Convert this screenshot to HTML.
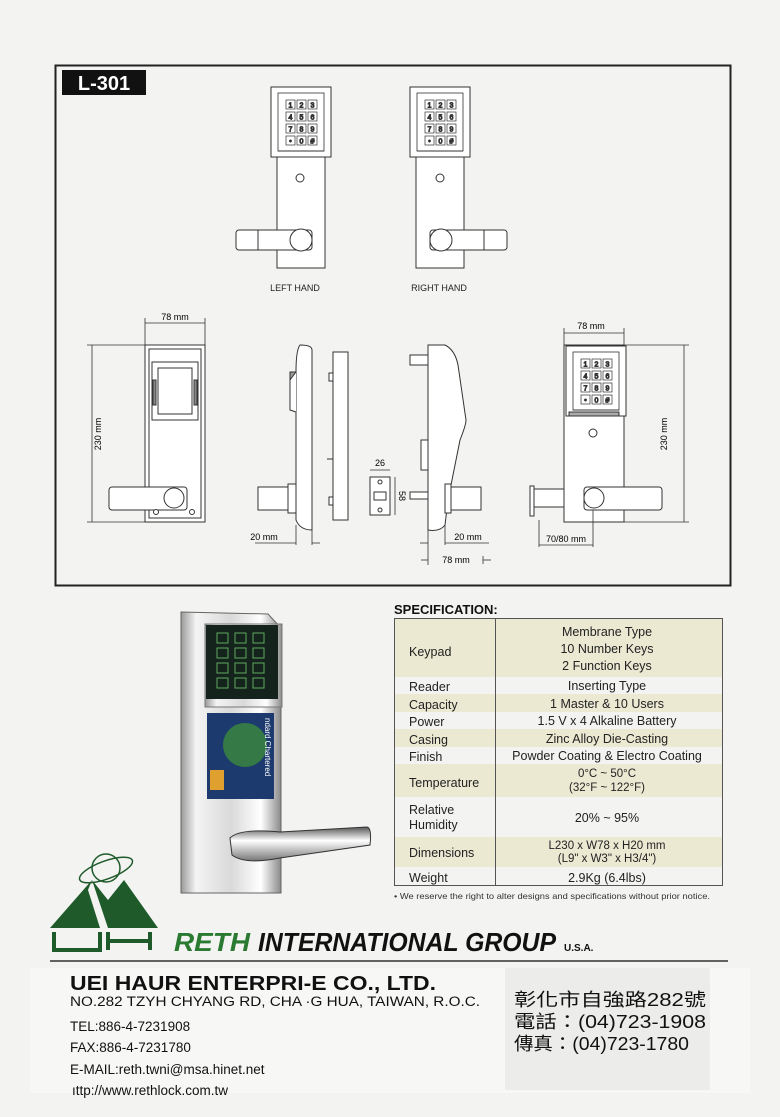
<!DOCTYPE html>
<html><head><meta charset="utf-8"><style>
html,body{margin:0;padding:0;background:#f3f3f1;}
body{width:780px;height:1117px;position:relative;overflow:hidden;font-family:"Liberation Sans",sans-serif;}
svg{position:absolute;left:0;top:0;}
</style></head><body>
<svg width="780" height="1117" viewBox="0 0 780 1117" xmlns="http://www.w3.org/2000/svg" font-family="Liberation Sans, sans-serif">
<defs>
<linearGradient id="chrome" x1="0" x2="1" y1="0" y2="0">
<stop offset="0" stop-color="#9a9a9a"/><stop offset="0.15" stop-color="#f4f4f4"/><stop offset="0.5" stop-color="#d9d9d9"/><stop offset="0.8" stop-color="#ffffff"/><stop offset="1" stop-color="#8a8a8a"/></linearGradient>
<linearGradient id="lev" x1="0" x2="0" y1="0" y2="1"><stop offset="0" stop-color="#555"/><stop offset="0.4" stop-color="#fff"/><stop offset="1" stop-color="#777"/></linearGradient>
<g id="kp">
<rect x="0" y="0" width="60" height="70" fill="#fff" stroke="#333" stroke-width="1"/>
<rect x="7" y="6" width="46" height="58" fill="#fff" stroke="#333" stroke-width="0.8"/>
<g fill="#fff" stroke="#333" stroke-width="0.7">
<rect x="15" y="13" width="9" height="9"/><rect x="26" y="13" width="9" height="9"/><rect x="37" y="13" width="9" height="9"/>
<rect x="15" y="25" width="9" height="9"/><rect x="26" y="25" width="9" height="9"/><rect x="37" y="25" width="9" height="9"/>
<rect x="15" y="37" width="9" height="9"/><rect x="26" y="37" width="9" height="9"/><rect x="37" y="37" width="9" height="9"/>
<rect x="15" y="49" width="9" height="9"/><rect x="26" y="49" width="9" height="9"/><rect x="37" y="49" width="9" height="9"/></g>
<g font-size="7" text-anchor="middle" fill="#333"><text x="19.5" y="20.5">1</text><text x="30.5" y="20.5">2</text><text x="41.5" y="20.5">3</text><text x="19.5" y="32.5">4</text><text x="30.5" y="32.5">5</text><text x="41.5" y="32.5">6</text><text x="19.5" y="44.5">7</text><text x="30.5" y="44.5">8</text><text x="41.5" y="44.5">9</text><text x="19.5" y="56.5">•</text><text x="30.5" y="56.5">0</text><text x="41.5" y="56.5">#</text></g>
<line x1="7" y1="64" x2="53" y2="64" stroke="#333"/>
</g>
</defs>

<rect x="55.5" y="65.5" width="675" height="520" fill="none" stroke="#222" stroke-width="2"/>
<rect x="62" y="70" width="84" height="25" fill="#111"/>
<text x="104" y="90" font-size="20" font-weight="bold" fill="#fff" text-anchor="middle">L-301</text>

<g stroke="#333" fill="#fff" stroke-width="1">
<rect x="277" y="157" width="48" height="111"/>
<use href="#kp" x="271" y="87"/>
<circle cx="300" cy="178" r="4"/>
<rect x="236" y="230" width="76" height="20" rx="3"/>
<circle cx="301" cy="240" r="11"/>
<line x1="258" y1="230" x2="258" y2="250"/>
</g>
<text x="295" y="291" font-size="9" text-anchor="middle" fill="#222">LEFT HAND</text>
<g stroke="#333" fill="#fff" stroke-width="1">
<rect x="416" y="157" width="48" height="111"/>
<use href="#kp" x="410" y="87"/>
<circle cx="440" cy="178" r="4"/>
<rect x="430" y="230" width="77" height="20" rx="3"/>
<circle cx="441" cy="240" r="11"/>
<line x1="484" y1="230" x2="484" y2="250"/>
</g>
<text x="439" y="291" font-size="9" text-anchor="middle" fill="#222">RIGHT HAND</text>

<g stroke="#333" fill="#fff" stroke-width="1">
<rect x="145" y="345" width="60" height="177"/>
<rect x="149" y="349" width="52" height="169" fill="none"/>
<rect x="152" y="362" width="46" height="58"/>
<rect x="158" y="368" width="34" height="46"/>
<rect x="153" y="380" width="3" height="25" fill="#888"/><rect x="194" y="380" width="3" height="25" fill="#888"/>
<rect x="109" y="487" width="78" height="23" rx="3"/>
<circle cx="174" cy="498" r="10"/>
<circle cx="156" cy="512" r="2.5"/><circle cx="192" cy="512" r="2.5"/>
</g>
<g stroke="#333" stroke-width="0.8" fill="none">
<line x1="145" y1="323" x2="205" y2="323"/><line x1="145" y1="318" x2="145" y2="345"/><line x1="205" y1="318" x2="205" y2="345"/>
<line x1="92" y1="345" x2="92" y2="522"/><line x1="87" y1="345" x2="145" y2="345"/><line x1="87" y1="522" x2="145" y2="522"/>
</g>
<text x="175" y="320" font-size="9" text-anchor="middle">78 mm</text>
<text x="0" y="0" font-size="9" text-anchor="middle" transform="translate(101,434) rotate(-90)">230 mm</text>

<g stroke="#333" fill="#fff" stroke-width="1">
<path d="M300 345 Q312 345 312 350 L312 530 Q300 530 296 520 L296 372 Q296 350 300 345Z"/>
<rect x="290" y="372" width="6" height="30" fill="#999"/>
<path d="M296 372 L290 380 L290 410 L296 412"/>
<rect x="258" y="487" width="30" height="23"/><rect x="288" y="484" width="8" height="29"/>
<rect x="333" y="352" width="15" height="168"/>
<rect x="329" y="373" width="4" height="8"/><rect x="329" y="497" width="4" height="8"/>
<line x1="327" y1="459" x2="333" y2="459"/>
</g>
<g stroke="#333" stroke-width="0.8"><line x1="296" y1="525" x2="296" y2="545"/><line x1="312" y1="525" x2="312" y2="545"/><line x1="255" y1="543" x2="296" y2="543"/><line x1="312" y1="543" x2="320" y2="543"/></g>
<text x="264" y="540" font-size="9" text-anchor="middle">20 mm</text>

<g stroke="#333" fill="#fff" stroke-width="1">
<rect x="370" y="477" width="20" height="38"/>
<circle cx="380" cy="482" r="2"/><circle cx="380" cy="510" r="2"/>
<path d="M374 492 L386 492 L386 500 L374 500Z"/>
</g>
<g stroke="#333" stroke-width="0.8"><line x1="370" y1="470" x2="390" y2="470"/><line x1="395" y1="477" x2="395" y2="515"/></g>
<text x="380" y="466" font-size="9" text-anchor="middle">26</text>
<text x="0" y="0" font-size="9" text-anchor="middle" transform="translate(399,496) rotate(90)">58</text>

<g stroke="#333" fill="#fff" stroke-width="1">
<path d="M428 345 L445 345 Q455 350 458 365 L466 420 Q466 425 460 440 L448 500 L445 525 Q440 532 428 530 Z"/>
<rect x="410" y="355" width="18" height="10"/>
<rect x="421" y="440" width="7" height="30"/>
<rect x="410" y="492" width="18" height="7"/>
<rect x="445" y="484" width="6" height="29"/><rect x="451" y="487" width="30" height="23"/>
</g>
<g stroke="#333" stroke-width="0.8"><line x1="428" y1="525" x2="428" y2="565"/><line x1="445" y1="525" x2="445" y2="545"/><line x1="445" y1="543" x2="489" y2="543"/><line x1="420" y1="543" x2="428" y2="543"/><line x1="421" y1="560" x2="428" y2="560"/><line x1="483" y1="560" x2="491" y2="560"/><line x1="483" y1="556" x2="483" y2="564"/></g>
<text x="468" y="540" font-size="9" text-anchor="middle">20 mm</text>
<text x="456" y="563" font-size="9" text-anchor="middle">78 mm</text>

<g stroke="#333" fill="#fff" stroke-width="1">
<rect x="564" y="345" width="60" height="177"/>
<use href="#kp" x="566" y="346"/>
<rect x="569" y="412" width="50" height="4" fill="#aaa"/>
<circle cx="593" cy="433" r="4"/>
<rect x="530" y="486" width="4" height="30"/><rect x="534" y="489" width="30" height="18"/>
<rect x="584" y="487" width="78" height="23" rx="3"/>
<circle cx="594" cy="498" r="10"/>
</g>
<g stroke="#333" stroke-width="0.8" fill="none">
<line x1="564" y1="333" x2="624" y2="333"/><line x1="564" y1="328" x2="564" y2="345"/><line x1="624" y1="328" x2="624" y2="345"/>
<line x1="684" y1="345" x2="684" y2="522"/><line x1="624" y1="345" x2="689" y2="345"/><line x1="624" y1="522" x2="689" y2="522"/>
<line x1="539" y1="520" x2="539" y2="547"/><line x1="593" y1="510" x2="593" y2="547"/><line x1="539" y1="545" x2="593" y2="545"/>
</g>
<text x="591" y="329" font-size="9" text-anchor="middle">78 mm</text>
<text x="0" y="0" font-size="9" text-anchor="middle" transform="translate(667,434) rotate(-90)">230 mm</text>
<text x="566" y="542" font-size="9" text-anchor="middle">70/80 mm</text>

<path d="M181 612 L268 614 L281 628 L281 893 L181 893 Z" fill="url(#chrome)" stroke="#666"/>
<rect x="205" y="624" width="77" height="83" fill="url(#chrome)" stroke="#777"/>
<rect x="206" y="625" width="72" height="74" fill="#14241c"/>
<g fill="none" stroke="#5fa85f" stroke-width="1">
<rect x="217" y="633" width="11" height="10"/><rect x="235" y="633" width="11" height="10"/><rect x="253" y="633" width="11" height="10"/>
<rect x="217" y="648" width="11" height="10"/><rect x="235" y="648" width="11" height="10"/><rect x="253" y="648" width="11" height="10"/>
<rect x="217" y="663" width="11" height="10"/><rect x="235" y="663" width="11" height="10"/><rect x="253" y="663" width="11" height="10"/>
<rect x="217" y="678" width="11" height="10"/><rect x="235" y="678" width="11" height="10"/><rect x="253" y="678" width="11" height="10"/></g>
<rect x="207" y="713" width="67" height="86" fill="#1c3a6e"/>
<circle cx="245" cy="745" r="22" fill="#3c8a3c" opacity="0.8"/>
<rect x="210" y="770" width="14" height="20" fill="#e0a030"/>
<text x="0" y="0" font-size="8" fill="#fff" transform="translate(265,718) rotate(90)">ndard Chartered</text>
<path d="M230 838 Q240 828 280 832 L367 827 Q372 828 370 845 L280 858 Q245 865 232 855Z" fill="url(#lev)" stroke="#333"/>

<text x="394" y="614" font-size="13" font-weight="bold" fill="#111">SPECIFICATION:</text>
<g>
<rect x="394" y="618" width="328" height="59" fill="#ece9d3"/>
<rect x="394" y="694" width="328" height="18" fill="#ece9d3"/>
<rect x="394" y="729" width="328" height="18" fill="#ece9d3"/>
<rect x="394" y="764" width="328" height="33" fill="#ece9d3"/>
<rect x="394" y="837" width="328" height="30" fill="#ece9d3"/>
<rect x="394.5" y="618.5" width="328" height="267" fill="none" stroke="#555"/>
<line x1="495.5" y1="618" x2="495.5" y2="886" stroke="#555"/>
</g>
<g font-size="12.5" fill="#222">
<text x="409" y="656">Keypad</text>
<text x="409" y="691">Reader</text>
<text x="409" y="709">Capacity</text>
<text x="409" y="726">Power</text>
<text x="409" y="744">Casing</text>
<text x="409" y="761">Finish</text>
<text x="409" y="787">Temperature</text>
<text x="409" y="814">Relative</text>
<text x="409" y="829">Humidity</text>
<text x="409" y="857">Dimensions</text>
<text x="409" y="882">Weight</text>
</g>
<g font-size="12.5" fill="#222" text-anchor="middle">
<text x="607" y="636">Membrane Type</text>
<text x="607" y="653">10 Number Keys</text>
<text x="607" y="670">2 Function Keys</text>
<text x="607" y="690">Inserting Type</text>
<text x="607" y="708">1 Master &amp; 10 Users</text>
<text x="607" y="725">1.5 V x 4 Alkaline Battery</text>
<text x="607" y="743">Zinc Alloy Die-Casting</text>
<text x="607" y="760">Powder Coating &amp; Electro Coating</text>
<text x="607" y="777" font-size="11.5">0°C ~ 50°C</text>
<text x="607" y="791" font-size="11.5">(32°F ~ 122°F)</text>
<text x="607" y="822">20% ~ 95%</text>
<text x="607" y="849" font-size="11.5">L230 x W78 x H20 mm</text>
<text x="607" y="862" font-size="11.5">(L9" x W3" x H3/4")</text>
<text x="607" y="882">2.9Kg (6.4lbs)</text>
</g>
<text x="394" y="899" font-size="8.5" fill="#333" textLength="316" lengthAdjust="spacingAndGlyphs">• We reserve the right to alter designs and specifications without prior notice.</text>

<path d="M50 928 L92 880 L108 900 L124 880 L158 928 Z" fill="#1e5a2a"/>
<path d="M92 880 L108 928 L100 928 L88 890Z" fill="#f3f3f1"/>
<circle cx="106" cy="868" r="14" fill="none" stroke="#1e5a2a" stroke-width="1.5"/>
<ellipse cx="106" cy="870" rx="28" ry="9" fill="none" stroke="#1e5a2a" stroke-width="1.5" transform="rotate(-20 106 870)"/>
<g fill="none" stroke="#1e5a2a" stroke-width="4">
<path d="M54 932 L54 950 L100 950 L100 932"/>
<path d="M108 932 L108 950 M108 941 L150 941 M150 932 L150 950"/>
</g>
<text x="174" y="951" font-size="26" font-weight="bold" font-style="italic" fill="#2a7a32" textLength="76" lengthAdjust="spacingAndGlyphs">RETH</text>
<text x="258" y="951" font-size="26" font-weight="bold" font-style="italic" fill="#111" textLength="298" lengthAdjust="spacingAndGlyphs">INTERNATIONAL GROUP</text>
<text x="564" y="951" font-size="10" font-weight="bold" fill="#111">U.S.A.</text>
<line x1="50" y1="961" x2="728" y2="961" stroke="#333" stroke-width="1.5"/>

<rect x="30" y="968" width="720" height="125" fill="#f7f7f6"/>
<rect x="505" y="968" width="205" height="122" fill="#ececea"/>
<text x="70" y="990" font-size="20" font-weight="bold" fill="#111" textLength="366" lengthAdjust="spacingAndGlyphs">UEI HAUR ENTERPRI-E CO., LTD.</text>
<g font-size="13.5" fill="#111">
<text x="70" y="1006" textLength="410" lengthAdjust="spacingAndGlyphs">NO.282 TZYH CHYANG RD, CHA ·G HUA, TAIWAN, R.O.C.</text>
<text x="70" y="1031">TEL:886-4-7231908</text>
<text x="70" y="1052">FAX:886-4-7231780</text>
<text x="70" y="1074">E-MAIL:reth.twni@msa.hinet.net</text>
<text x="72" y="1095">ıttp://www.rethlock.com.tw</text>
</g>
<g font-size="18" fill="#111" font-family="Liberation Sans, Noto Sans CJK TC, sans-serif">
<text x="514" y="1006" textLength="192" lengthAdjust="spacingAndGlyphs">彰化市自強路282號</text>
<text x="514" y="1028" textLength="192" lengthAdjust="spacingAndGlyphs">電話：(04)723-1908</text>
<text x="514" y="1050" textLength="175" lengthAdjust="spacingAndGlyphs">傳真：(04)723-1780</text>
</g>
</svg>
</body></html>
